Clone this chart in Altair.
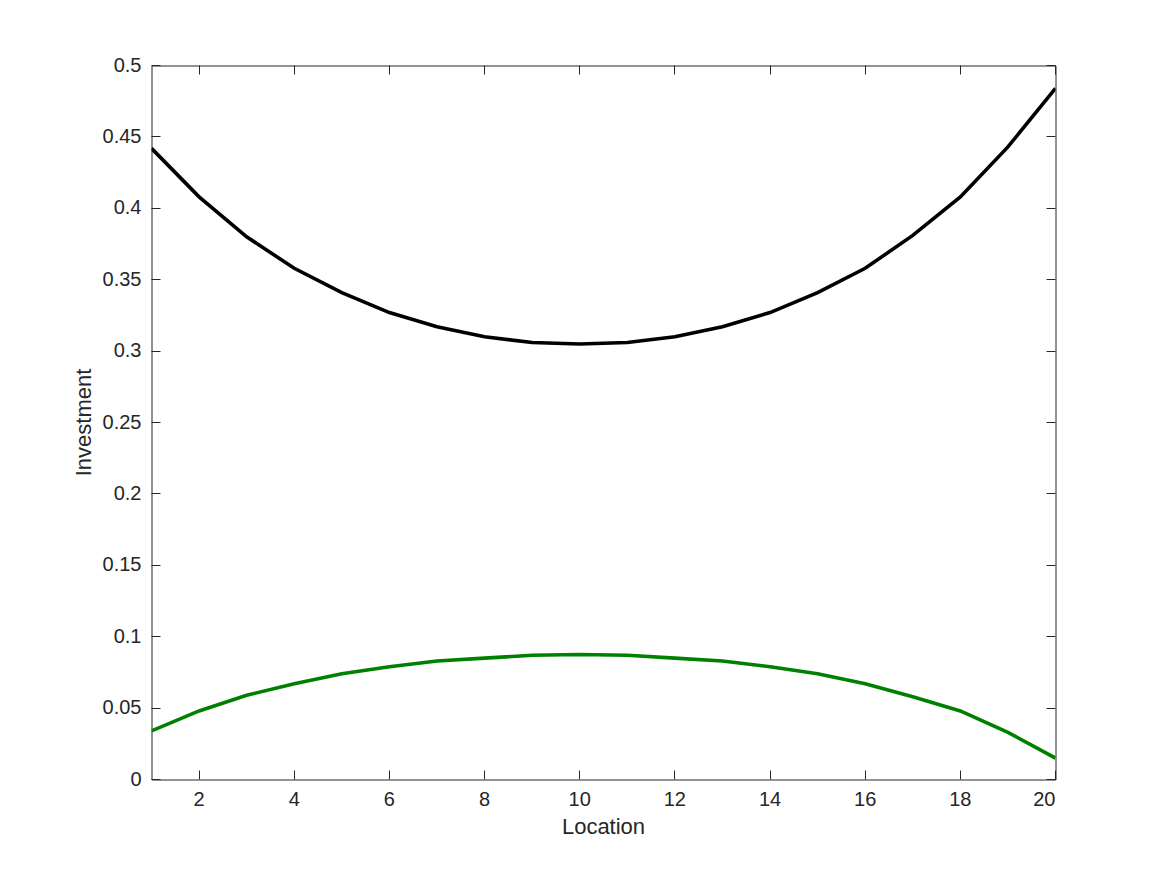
import altair as alt
import pandas as pd

locations = list(range(1, 21))
black_values = [0.442, 0.408, 0.380, 0.358, 0.341, 0.327, 0.317, 0.310, 0.306, 0.305,
                0.306, 0.310, 0.317, 0.327, 0.341, 0.358, 0.381, 0.408, 0.443, 0.484]
green_values = [0.034, 0.048, 0.059, 0.067, 0.074, 0.079, 0.083, 0.085, 0.087, 0.0875,
                0.087, 0.085, 0.083, 0.079, 0.074, 0.067, 0.058, 0.048, 0.033, 0.015]
series_names = ["Black", "Green"]
series_colors = ["#000000", "#008000"]
x_ticks = [2, 4, 6, 8, 10, 12, 14, 16, 18, 20]
y_ticks = [0, 0.05, 0.1, 0.15, 0.2, 0.25, 0.3, 0.35, 0.4, 0.45, 0.5]

df = pd.DataFrame({
    "Location": locations * 2,
    "Investment": black_values + green_values,
    "Series": [series_names[0]] * 20 + [series_names[1]] * 20,
})

FONT = "Liberation Sans"
TXT = "#262626"

xscale = alt.Scale(domain=[1, 20], nice=False, zero=False)
yscale = alt.Scale(domain=[0, 0.5], nice=False)

tick_axis = dict(domain=False, grid=False, tickSize=9, offset=-9, tickColor=TXT,
                 tickWidth=1, translate=0)
label_axis = dict(labelColor=TXT, labelFont=FONT, labelFontSize=20,
                  titleFont=FONT, titleFontSize=22, titleColor=TXT, titleFontWeight="normal")

base = alt.Chart(df)

main = base.mark_line(strokeWidth=3.6, clip=True).encode(
    x=alt.X("Location:Q", scale=xscale,
            axis=alt.Axis(orient="bottom", values=x_ticks, labelPadding=10,
                          titlePadding=7, **tick_axis, **label_axis)),
    y=alt.Y("Investment:Q", scale=yscale,
            axis=alt.Axis(orient="left", values=y_ticks, labelPadding=10,
                          titlePadding=7, labelExpr="format(datum.value, '')",
                          **tick_axis, **label_axis)),
    color=alt.Color("Series:N", scale=alt.Scale(domain=series_names, range=series_colors),
                    legend=None),
    detail="Series:N",
)

mirror = base.mark_line(opacity=0).encode(
    x=alt.X("Location:Q", scale=xscale,
            axis=alt.Axis(orient="top", values=x_ticks, labels=False, title=None, **tick_axis)),
    y=alt.Y("Investment:Q", scale=yscale,
            axis=alt.Axis(orient="right", values=y_ticks, labels=False, title=None, **tick_axis)),
    detail="Series:N",
)

chart = alt.layer(main, mirror).resolve_axis(x="independent", y="independent").properties(
    width=904, height=714,
    background="white",
    autosize=alt.AutoSizeParams(type="none"),
    padding={"left": 143.5, "top": 57.5, "right": 100, "bottom": 80},
).configure_view(stroke="#262626", strokeWidth=1)

chart.save("out.html", embed_options={"renderer": "svg", "actions": False})
